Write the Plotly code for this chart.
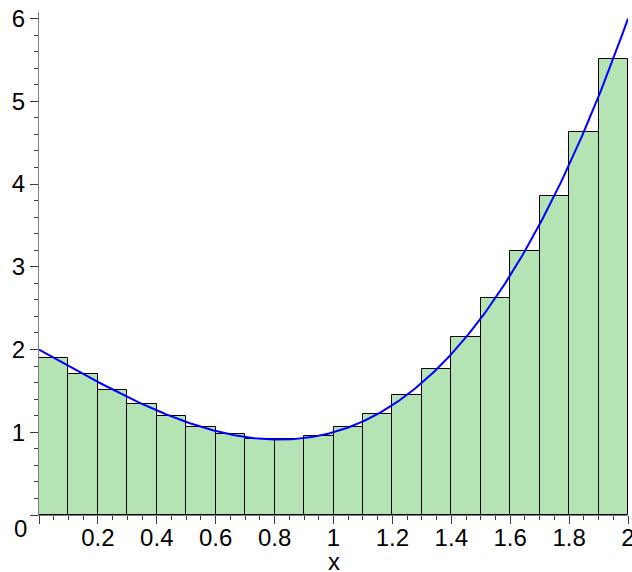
import numpy as np
import plotly.graph_objects as go

# Midpoint Riemann sum of f(x) = x^3 - 2x + 2 on [0, 2] with 20 subintervals
bar_left = [0.0, 0.1, 0.2, 0.3, 0.4, 0.5, 0.6, 0.7, 0.8, 0.9,
            1.0, 1.1, 1.2, 1.3, 1.4, 1.5, 1.6, 1.7, 1.8, 1.9]
bar_heights = [1.900, 1.703, 1.516, 1.343, 1.191, 1.066, 0.975, 0.922, 0.914, 0.957,
               1.058, 1.221, 1.453, 1.760, 2.149, 2.624, 3.192, 3.859, 4.632, 5.515]
bar_width = 0.1

x_ticks = [0.2, 0.4, 0.6, 0.8, 1.0, 1.2, 1.4, 1.6, 1.8, 2.0]
x_tick_labels = ["0.2", "0.4", "0.6", "0.8", "1", "1.2", "1.4", "1.6", "1.8", "2"]
y_ticks = [1, 2, 3, 4, 5, 6]
y_tick_labels = ["1", "2", "3", "4", "5", "6"]


def f(x):
    return x**3 - 2 * x + 2


xs = np.linspace(0, 2, 401)

font = dict(family="Liberation Sans, Arial, sans-serif", size=24, color="black")

fig = go.Figure()
fig.add_trace(go.Bar(
    x=[l + bar_width / 2 for l in bar_left],
    y=bar_heights,
    width=bar_width,
    marker=dict(color="rgb(180,228,180)", line=dict(color="black", width=1)),
    hoverinfo="skip",
))
fig.add_trace(go.Scatter(
    x=xs, y=f(xs), mode="lines",
    line=dict(color="rgb(0,0,255)", width=2),
    cliponaxis=False,
))

fig.update_layout(
    width=632, height=572,
    margin=dict(l=39, r=4, t=12, b=57),
    plot_bgcolor="white", paper_bgcolor="white",
    showlegend=False, bargap=0,
    font=font,
)
fig.update_xaxes(
    range=[0, 2], showgrid=False, zeroline=False, automargin=False,
    showline=True, linecolor="rgb(128,128,128)", linewidth=1,
    ticks="outside", tickvals=[0] + x_ticks, ticktext=[""] + x_tick_labels,
    ticklen=8, tickcolor="rgb(60,60,60)", tickwidth=1,
    minor=dict(dtick=0.05, ticks="outside", ticklen=4, tickcolor="rgb(60,60,60)"),
    tickfont=font, ticklabeloverflow="allow", ticklabelstandoff=-7,
)
fig.update_yaxes(
    range=[0, 6.08], showgrid=False, zeroline=False, automargin=False,
    showline=True, linecolor="rgb(128,128,128)", linewidth=1,
    ticks="outside", tickvals=[0] + y_ticks, ticktext=[""] + y_tick_labels,
    ticklen=8, tickcolor="rgb(60,60,60)", tickwidth=1,
    minor=dict(dtick=0.2, ticks="outside", ticklen=4, tickcolor="rgb(60,60,60)"),
    tickfont=font, ticklabeloverflow="allow",
)
# Origin label sits below-left of the axes' crossing point
fig.add_annotation(
    x=0, y=0, xref="x", yref="y", text="0", showarrow=False,
    xanchor="right", yanchor="top", xshift=-10, yshift=2, font=font,
)
# Axis name under the tick labels
fig.add_annotation(
    x=0.5, y=0, xref="paper", yref="paper", text="x", showarrow=False,
    xanchor="center", yanchor="middle", yshift=-46, font=font,
)

fig.write_html("out.html")
